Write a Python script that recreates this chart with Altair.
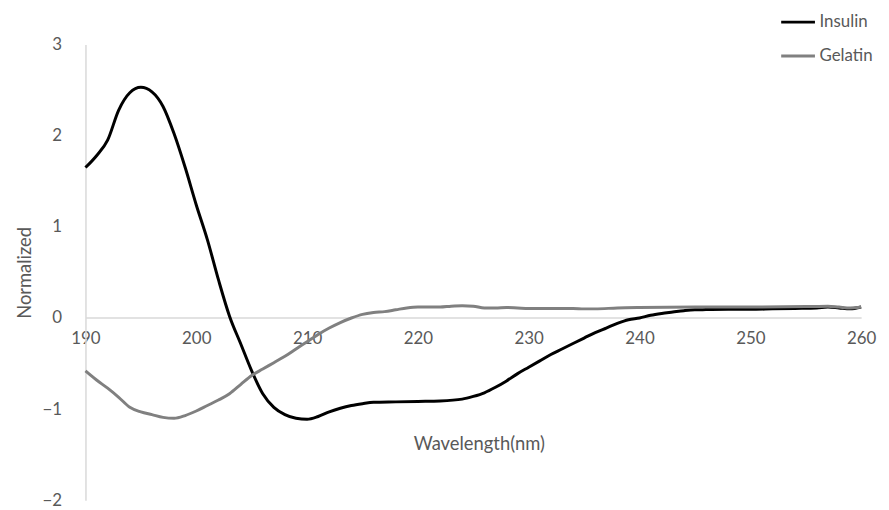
import altair as alt
import pandas as pd

# Wavelength (nm) and normalized CD values
insulin_x = [190, 191, 192, 193, 194, 195, 196, 197, 198, 199, 200, 201, 202, 203, 204,
             205, 206, 207, 208, 209, 210, 211, 212, 213, 214, 215, 216, 218, 220, 222,
             224, 225, 226, 227, 228, 229, 230, 231, 232, 233, 234, 235, 236, 237, 238,
             239, 240, 241, 242, 243, 244, 245, 246, 248, 250, 252, 254, 256, 257, 258,
             259, 260]
insulin_y = [1.65, 1.78, 1.95, 2.28, 2.47, 2.53, 2.48, 2.32, 2.02, 1.65, 1.24, 0.86, 0.42,
             0.02, -0.28, -0.58, -0.83, -0.98, -1.06, -1.10, -1.11, -1.08, -1.03, -0.99,
             -0.96, -0.94, -0.925, -0.92, -0.915, -0.91, -0.89, -0.86, -0.82, -0.76,
             -0.69, -0.61, -0.54, -0.47, -0.40, -0.34, -0.28, -0.22, -0.16, -0.11, -0.06,
             -0.02, 0.0, 0.03, 0.05, 0.065, 0.08, 0.09, 0.092, 0.095, 0.095, 0.10, 0.105,
             0.11, 0.12, 0.11, 0.10, 0.12]

gelatin_x = [190, 191, 192, 193, 194, 195, 196, 197, 198, 199, 200, 201, 202, 203, 204,
             205, 206, 207, 208, 209, 210, 211, 212, 213, 214, 215, 216, 217, 218, 219,
             220, 221, 222, 223, 224, 225, 226, 227, 228, 229, 230, 232, 234, 235, 236,
             238, 240, 245, 250, 255, 257, 258, 259, 260]
gelatin_y = [-0.58, -0.68, -0.77, -0.87, -0.98, -1.03, -1.06, -1.09, -1.10, -1.07, -1.02,
             -0.96, -0.90, -0.83, -0.73, -0.63, -0.56, -0.49, -0.42, -0.34, -0.26, -0.18,
             -0.11, -0.05, 0.0, 0.04, 0.06, 0.07, 0.09, 0.11, 0.12, 0.12, 0.12, 0.13,
             0.135, 0.13, 0.11, 0.11, 0.115, 0.11, 0.105, 0.105, 0.105, 0.10, 0.10, 0.11,
             0.115, 0.12, 0.12, 0.125, 0.13, 0.12, 0.11, 0.12]

series = ["Insulin", "Gelatin"]
colors = ["#000000", "#808080"]
x_ticks = [190, 200, 210, 220, 230, 240, 250, 260]
y_ticks = [-2, -1, 0, 1, 2, 3]

df = pd.concat([
    pd.DataFrame({"wl": insulin_x, "val": insulin_y, "series": "Insulin"}),
    pd.DataFrame({"wl": gelatin_x, "val": gelatin_y, "series": "Gelatin"}),
])

FONT = "Lato"
TXT = "#595959"
AX = "#d9d9d9"

chart = alt.Chart(df).mark_line(strokeWidth=3, interpolate="monotone").encode(
    x=alt.X("wl:Q", scale=alt.Scale(domain=[190, 260], nice=False, zero=False),
            axis=alt.Axis(values=x_ticks, title="Wavelength(nm)", ticks=False, grid=False,
                          domainColor=AX, domainWidth=1.5, labelColor=TXT, labelFontSize=17,
                          labelFont=FONT, labelPadding=13, offset=-184,
                          titleFont=FONT, titleFontSize=18.5, titleFontWeight="normal",
                          titleColor=TXT, titlePadding=89, titleX=396, labelFlush=False)),
    y=alt.Y("val:Q", scale=alt.Scale(domain=[-2, 3], nice=False),
            axis=alt.Axis(values=y_ticks, title="Normalized", ticks=False, grid=False,
                          domainColor=AX, domainWidth=1.5, labelColor=TXT, labelFontSize=17,
                          labelFont=FONT, labelPadding=24, titleFont=FONT, titleFontSize=18.5,
                          titleFontWeight="normal", titleColor=TXT, titlePadding=8,
                          labelFlush=False)),
    color=alt.Color("series:N", sort=series,
                    scale=alt.Scale(domain=series, range=colors),
                    legend=alt.Legend(title=None, orient="none", legendX=699, legendY=-41,
                                      symbolType="stroke", symbolSize=1156,
                                      symbolStrokeWidth=3, labelFont=FONT, labelFontSize=17,
                                      labelColor=TXT, rowPadding=7, labelOffset=3)),
).properties(
    width=781,
    height=459,
    autosize=alt.AutoSizeParams(type="none"),
    padding={"left": 78, "top": 35, "right": 20, "bottom": 8},
).configure_view(stroke=None)

chart.save("out.html", embed_options={"renderer": "svg", "actions": False})
